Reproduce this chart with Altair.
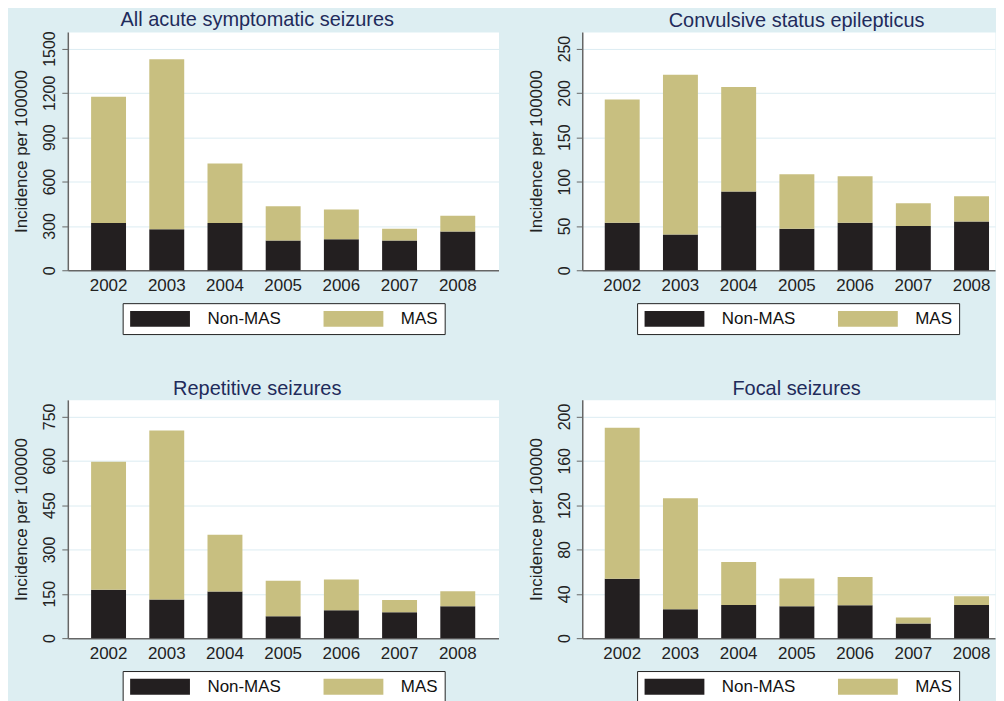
import altair as alt
import pandas as pd

YEARS = ["2002", "2003", "2004", "2005", "2006", "2007", "2008"]
GROUPS = ["Non-MAS", "MAS"]

TITLE_ACUTE = "All acute symptomatic seizures"
NONMAS_ACUTE = [319, 278, 319, 202, 209, 202, 263]
MAS_ACUTE = [855, 1150, 404, 231, 202, 79, 105]
TICKS_ACUTE = [0, 300, 600, 900, 1200, 1500]

TITLE_CSE = "Convulsive status epilepticus"
NONMAS_CSE = [53.5, 40.4, 88.7, 46.8, 53.5, 49.8, 55.0]
MAS_CSE = [139.2, 180.0, 117.9, 61.4, 52.4, 25.8, 28.5]
TICKS_CSE = [0, 50, 100, 150, 200, 250]

TITLE_REP = "Repetitive seizures"
NONMAS_REP = [164, 131, 158, 74, 94, 88, 108]
MAS_REP = [433, 571, 192, 120, 104, 41, 51]
TICKS_REP = [0, 150, 300, 450, 600, 750]

TITLE_FOCAL = "Focal seizures"
NONMAS_FOCAL = [53.6, 26.0, 29.9, 28.7, 29.6, 13.2, 29.9]
MAS_FOCAL = [136.2, 100.3, 38.7, 25.2, 25.5, 5.4, 7.8]
TICKS_FOCAL = [0, 40, 80, 120, 160, 200]

FONT = "Liberation Sans"
BG = "#ddeef2"
DARK = "#231f20"
KHAKI = "#c8bf80"


def panel(title, nonmas, mas, ticks, ymax, left):
    rows = []
    for y, a, b in zip(YEARS, nonmas, mas):
        rows.append({"year": y, "group": "Non-MAS", "value": a, "order": 0})
        rows.append({"year": y, "group": "MAS", "value": b, "order": 1})
    df = pd.DataFrame(rows)
    if left:
        width, xscale, dx = 432, alt.Scale(paddingInner=0.4, paddingOuter=0.4), -26
    else:
        width, xscale, dx = 414, alt.Scale(paddingInner=0.4, paddingOuter=0.2445, align=0.79), 8
    return alt.Chart(df).mark_bar().encode(
        x=alt.X(
            "year:O",
            sort=YEARS,
            scale=xscale,
            axis=alt.Axis(title=None, labelAngle=0, ticks=False, tickSize=0,
                          grid=False, labelPadding=7, labelFontSize=17),
        ),
        y=alt.Y(
            "value:Q",
            stack="zero",
            scale=alt.Scale(domain=[0, ymax], nice=False),
            axis=alt.Axis(values=ticks, format="d", title="Incidence per 100000",
                          labelAngle=-90, labelAlign="center", labelBaseline="bottom",
                          labelPadding=4, tickSize=6, titlePadding=11, grid=True,
                          labelFontSize=16),
        ),
        color=alt.Color(
            "group:N",
            scale=alt.Scale(domain=GROUPS, range=[DARK, KHAKI]),
            legend=alt.Legend(
                title=None, orient="none", legendX=55, legendY=272,
                direction="horizontal", symbolType="M-1,-1H6.5V1H-1Z",
                symbolSize=256, labelOffset=61, padding=7, columnPadding=42,
                fillColor="white", strokeColor="#222", labelFontSize=17,
                labelFont=FONT, labelColor="#111", symbolStrokeWidth=0,
                symbolOpacity=1,
            ),
        ),
        order=alt.Order("order:Q"),
    ).properties(width=width, height=239, title=alt.TitleParams(title, dx=dx))


p1 = panel(TITLE_ACUTE, NONMAS_ACUTE, MAS_ACUTE, TICKS_ACUTE, 1612, True)
p2 = panel(TITLE_CSE, NONMAS_CSE, MAS_CSE, TICKS_CSE, 268.7, False)
p3 = panel(TITLE_REP, NONMAS_REP, MAS_REP, TICKS_REP, 806, True)
p4 = panel(TITLE_FOCAL, NONMAS_FOCAL, MAS_FOCAL, TICKS_FOCAL, 215, False)

top = alt.hconcat(p1, p2, spacing=27).resolve_scale(color="independent", y="independent", x="independent")
bottom = alt.hconcat(p3, p4, spacing=27).resolve_scale(color="independent", y="independent", x="independent")

chart = (
    alt.vconcat(top, bottom, spacing=44)
    .resolve_scale(color="independent", y="independent", x="independent")
    .configure(background=BG, padding={"left": 4, "top": 0, "right": 0, "bottom": 0})
    .configure_view(fill="white", stroke="transparent")
    .configure_axis(
        labelFont=FONT, titleFont=FONT, domainColor="#666", domainWidth=1.5,
        tickColor="#666", tickWidth=1, labelColor="#222", titleColor="#222",
        titleFontSize=17, titleFontWeight="normal", gridColor="#dcecf2", gridWidth=1,
    )
    .configure_title(font=FONT, fontSize=20, color="#1f2b5b", fontWeight="normal",
                     anchor="middle", frame="group", offset=0.5, baseline="alphabetic")
)

chart.save("out.html", embed_options={"renderer": "svg", "actions": False})
